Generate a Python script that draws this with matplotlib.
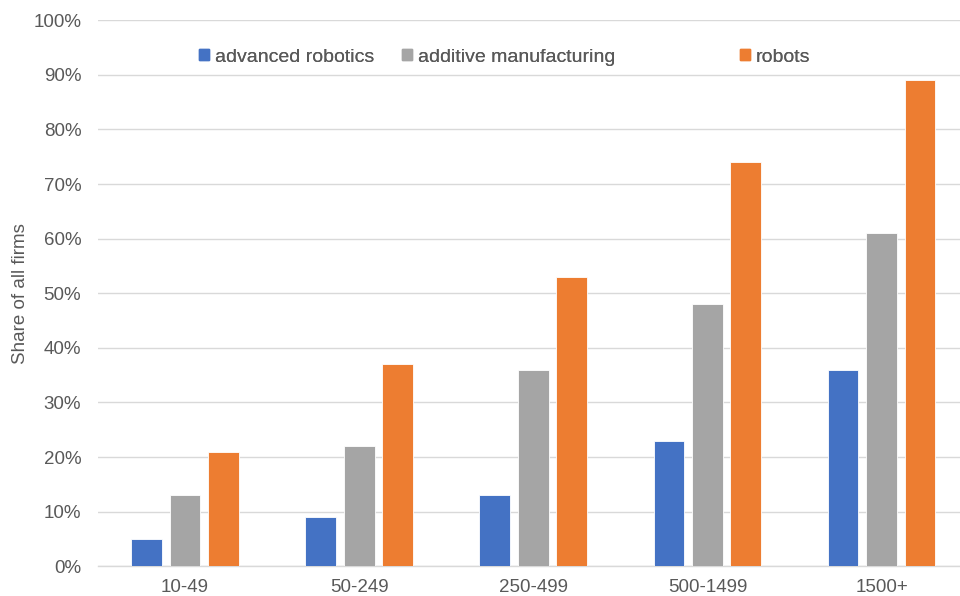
import numpy as np
import matplotlib.pyplot as plt
from matplotlib.ticker import PercentFormatter
from matplotlib.patches import Patch

plt.rcParams['font.family'] = ['Liberation Sans', 'DejaVu Sans']

size_classes = ['10-49', '50-249', '250-499', '500-1499', '1500+']
adv_robotics = [5, 9, 13, 23, 36]
additive_mfg = [13, 22, 36, 48, 61]
robots = [21, 37, 53, 74, 89]

series = [('advanced robotics', adv_robotics, '#4472C4'),
          ('additive manufacturing', additive_mfg, '#A5A5A5'),
          ('robots', robots, '#ED7D31')]

fig = plt.figure(figsize=(9.6, 5.96), dpi=100)
# plot area runs a little past the right edge, like the source
ax = fig.add_axes([0.102, 0.050, 0.907, 0.916])

x = np.arange(len(size_classes))
width = 0.177
step = 0.221
for i, (name, vals, col) in enumerate(series):
    ax.bar(x + (i - 1) * step, vals, width, color=col, label=name,
           edgecolor='white', linewidth=0.6, zorder=3)

ax.set_xlim(-0.5, len(size_classes) - 0.5)
ax.set_ylim(0, 100)
ax.set_yticks(np.arange(0, 101, 10))
ax.yaxis.set_major_formatter(PercentFormatter(decimals=0))
ax.set_xticks(x)
ax.set_xticklabels(size_classes)
ax.grid(axis='y', color='#D9D9D9', linewidth=1, zorder=0)
for s in ['top', 'right', 'left']:
    ax.spines[s].set_visible(False)
ax.spines['bottom'].set_color('#D9D9D9')
ax.spines['bottom'].set_linewidth(1)
ax.tick_params(axis='both', length=0, colors='#595959', labelsize=13.5)
ax.tick_params(axis='x', pad=9)
ax.tick_params(axis='y', pad=12)
ax.set_ylabel('Share of all firms', color='#595959', fontsize=13.5, labelpad=3)

# legend entries placed one by one (uneven spacing in the original)
leg_x = [199 / 960, 402 / 960, 740 / 960]
for (name, vals, col), lx in zip(series, leg_x):
    lg = fig.legend(handles=[Patch(color=col, label=name)], loc='center left',
                    bbox_to_anchor=(lx, 1 - 57 / 596), frameon=False, fontsize=14,
                    handlelength=0.5, handleheight=0.5, handletextpad=0.3,
                    borderpad=0, borderaxespad=0, labelcolor='#595959')
    fig.add_artist(lg)

fig.savefig('out.png', dpi=100)
